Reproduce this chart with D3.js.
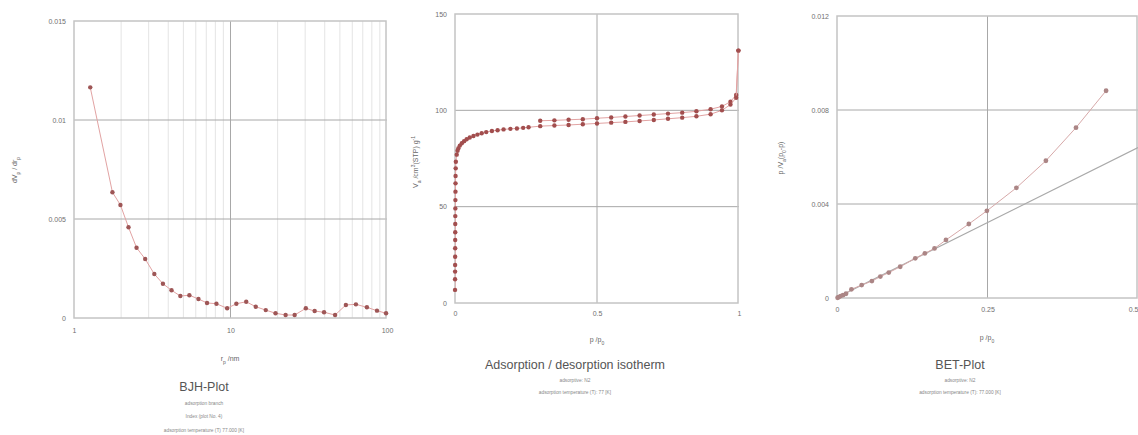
<!DOCTYPE html>
<html>
<head>
<meta charset="utf-8">
<script src="https://cdn.jsdelivr.net/npm/d3@7"></script>
<style>
  body { margin: 0; background: #fff; font-family: "Liberation Sans", Arial, sans-serif; }
  .frame { fill: none; stroke: #c4c4c4; stroke-width: 1.5; }
  .grid-major { stroke: #a8a8a8; stroke-width: 1; }
  .grid-minor { stroke: #e4e4e4; stroke-width: 1; }
  .tick-label { fill: #707070; font-size: 7px; }
  .axis-label { fill: #666; font-size: 7px; }
  .title { fill: #555; font-size: 12.5px; text-anchor: middle; }
  .sub { fill: #888; font-size: 4.8px; text-anchor: middle; }
</style>
</head>
<body>
<svg id="chart" width="1138" height="435"></svg>
<script>
// ---- BJH plot (adsorption branch) ----
var bjhRadius = [1.27, 1.76, 1.98, 2.23, 2.51, 2.85, 3.26, 3.70, 4.20, 4.78, 5.46, 6.24, 7.08, 8.13, 9.52,
    10.9, 12.6, 14.5, 16.8, 19.4, 22.5, 25.7, 30.3, 34.5, 39.6, 46.6, 54.6, 63.3, 74.4, 86.3, 98.6];
var bjhDv = [0.01165, 0.00635, 0.00571, 0.00458, 0.00355, 0.00298, 0.00222, 0.00173, 0.00140, 0.00111, 0.00115,
    0.00096, 0.00076, 0.00072, 0.00049, 0.00072, 0.00082, 0.00057, 0.00040, 0.00024, 0.00015, 0.00015, 0.00049,
    0.00035, 0.00029, 0.00015, 0.00066, 0.00069, 0.00054, 0.00037, 0.00024];

// ---- adsorption / desorption isotherm ----
var adsP = [0.0001, 0.0002, 0.0003, 0.0004, 0.0005, 0.0006, 0.0007, 0.0008, 0.0009, 0.0010, 0.0012, 0.0014,
    0.0016, 0.0018, 0.0020, 0.0025, 0.0030, 0.006, 0.009, 0.012, 0.017, 0.024, 0.032, 0.041, 0.052, 0.065,
    0.079, 0.094, 0.11, 0.13, 0.15, 0.171, 0.195, 0.218, 0.24, 0.259,
    0.30, 0.35, 0.40, 0.45, 0.50, 0.55, 0.60, 0.65, 0.70, 0.75, 0.80, 0.85, 0.90, 0.94, 0.97, 0.99, 0.998];
var adsV = [6.8, 12.3, 16.3, 19.7, 24.0, 28.4, 32.7, 36.7, 41.0, 45.1, 49.1, 53.4, 57.8, 62.1, 65.9, 69.9,
    73.3, 77.0, 79.0, 80.3, 81.7, 82.9, 84.0, 85.0, 85.9, 86.7, 87.4, 88.1, 88.7, 89.3, 89.7, 90.1, 90.4,
    90.6, 90.9, 91.2,
    91.8, 92.1, 92.4, 92.8, 93.2, 93.6, 94.0, 94.5, 95.0, 95.6, 96.2, 96.9, 98.0, 100.0, 103.0, 106.5, 131.0];
var desP = [0.998, 0.99, 0.97, 0.94, 0.90, 0.85, 0.80, 0.75, 0.70, 0.65, 0.60, 0.55, 0.50, 0.45, 0.40, 0.35, 0.30];
var desV = [131.0, 108.0, 104.5, 102.0, 100.6, 99.5, 98.8, 98.3, 97.8, 97.3, 96.8, 96.3, 95.9, 95.4, 95.1, 94.8, 94.6];

// ---- BET plot ----
var betP = [0.001, 0.003, 0.006, 0.010, 0.015, 0.024, 0.041, 0.058, 0.072, 0.086, 0.105, 0.130, 0.146,
    0.162, 0.181, 0.219, 0.249, 0.298, 0.347, 0.397, 0.447];
var betY = [0.00001, 0.00004, 0.00008, 0.00012, 0.00018, 0.00037, 0.00055, 0.00072, 0.00091, 0.00108,
    0.00133, 0.00169, 0.00190, 0.00211, 0.00247, 0.00315, 0.00371, 0.00469, 0.00584, 0.00725, 0.00882];
var betFitP = [0, 0.5];
var betFitY = [0.00002, 0.00640];

var svg = d3.select("#chart");

/*
 * Panel - one framed plot with grid, tick labels, axis labels and captions
 */
Panel = function(cfg) {
    this.cfg = cfg;
    this.initVis();
};

Panel.prototype.initVis = function() {
    var vis = this, c = vis.cfg;

    vis.x = (c.log ? d3.scaleLog() : d3.scaleLinear()).domain(c.xDomain).range([c.left, c.right]);
    vis.y = d3.scaleLinear().domain(c.yDomain).range([c.bottom, c.top]);
    vis.g = svg.append("g");

    // minor grid (log panel only)
    if (c.minorX) {
        vis.g.selectAll(".grid-minor").data(c.minorX).enter().append("line")
            .attr("class", "grid-minor")
            .attr("x1", d => vis.x(d)).attr("x2", d => vis.x(d))
            .attr("y1", c.top).attr("y2", c.bottom);
    }

    // major grid
    vis.g.selectAll(".gx").data(c.gridX).enter().append("line")
        .attr("class", "grid-major")
        .attr("x1", d => vis.x(d)).attr("x2", d => vis.x(d))
        .attr("y1", c.top).attr("y2", c.bottom);
    vis.g.selectAll(".gy").data(c.gridY).enter().append("line")
        .attr("class", "grid-major")
        .attr("x1", c.left).attr("x2", c.right)
        .attr("y1", d => vis.y(d)).attr("y2", d => vis.y(d));

    vis.g.append("rect").attr("class", "frame")
        .attr("x", c.left).attr("y", c.top)
        .attr("width", c.right - c.left - 1).attr("height", c.bottom - c.top);

    // tick labels through d3 axes, lines hidden
    var xAxis = d3.axisBottom(vis.x).tickValues(c.xTicks).tickFormat((d, i) => c.xTickText[i])
        .tickSize(0).tickPadding(c.xPad);
    var yAxis = d3.axisLeft(vis.y).tickValues(c.yTicks).tickFormat((d, i) => c.yTickText[i])
        .tickSize(0).tickPadding(8);
    var gx = vis.g.append("g").attr("transform", "translate(0," + c.bottom + ")").call(xAxis);
    var gy = vis.g.append("g").attr("transform", "translate(" + c.left + ",0)").call(yAxis);
    [gx, gy].forEach(function(a) {
        a.select(".domain").remove();
        a.selectAll("text").attr("class", "tick-label").attr("fill", null)
            .style("fill", "#707070").attr("font-size", null);
        a.attr("font-family", null).attr("font-size", null);
    });
    // last x label sits on the page edge in the BET panel
    if (c.lastXEnd) gx.selectAll(".tick:last-of-type text").attr("text-anchor", "end");

    // axis labels
    var xl = vis.g.append("text").attr("class", "axis-label")
        .attr("x", c.xLabelPos[0]).attr("y", c.xLabelPos[1]).attr("text-anchor", "middle");
    c.xLabel.forEach(function(p) {
        xl.append("tspan").attr("baseline-shift", p[1] || null)
            .attr("font-size", p[1] ? "5px" : null).text(p[0]);
    });
    var yl = vis.g.append("text").attr("class", "axis-label")
        .attr("transform", "translate(" + c.yLabelPos[0] + "," + c.yLabelPos[1] + ") rotate(-90)")
        .attr("text-anchor", "middle");
    c.yLabel.forEach(function(p) {
        yl.append("tspan").attr("baseline-shift", p[1] || null)
            .attr("font-size", p[1] ? "5px" : null).text(p[0]);
    });

    // captions
    vis.g.append("text").attr("class", "title")
        .attr("x", c.titlePos[0]).attr("y", c.titlePos[1]).text(c.title);
    vis.g.selectAll(".sub").data(c.subs).enter().append("text")
        .attr("class", "sub")
        .attr("x", c.titlePos[0])
        .attr("y", (d, i) => c.titlePos[1] + c.subGap * (i + 1))
        .text(d => d);

    vis.clip = "clip" + c.id;
    vis.g.append("clipPath").attr("id", vis.clip).append("rect")
        .attr("x", c.left).attr("y", c.top - 4)
        .attr("width", c.right - c.left + 4).attr("height", c.bottom - c.top + 8);
};

Panel.prototype.addSeries = function(xs, ys, opt) {
    var vis = this;
    var data = xs.map((d, i) => ({ x: d, y: ys[i] }));
    var line = d3.line().x(d => vis.x(d.x)).y(d => vis.y(d.y));
    vis.g.append("path").datum(data)
        .attr("clip-path", "url(#" + vis.clip + ")")
        .attr("fill", "none").attr("stroke", opt.line).attr("stroke-width", opt.width || 1)
        .attr("d", line);
    if (opt.dot) {
        vis.g.append("g").selectAll("circle").data(data).enter().append("circle")
            .attr("cx", d => vis.x(d.x)).attr("cy", d => vis.y(d.y))
            .attr("r", opt.r || 2.2).attr("fill", opt.dot);
    }
};

var minorTicks = [2, 3, 4, 5, 6, 7, 8, 9, 20, 30, 40, 50, 60, 70, 80, 90];

var bjh = new Panel({
    id: 1, log: true, left: 74, right: 387, top: 21, bottom: 318,
    xDomain: [1, 100], yDomain: [0, 0.015],
    minorX: minorTicks, gridX: [10], gridY: [0.005, 0.01],
    xTicks: [1, 10, 100], xTickText: ["1", "10", "100"], xPad: 10,
    yTicks: [0, 0.005, 0.01, 0.015], yTickText: ["0", "0.005", "0.01", "0.015"],
    xLabel: [["r"], ["p", "sub"], [" /nm"]], xLabelPos: [230, 361],
    yLabel: [["dV"], ["p", "sub"], [" / dr"], ["p", "sub"]], yLabelPos: [17, 170],
    title: "BJH-Plot", titlePos: [204, 391], subGap: 13.5,
    subs: ["adsorption branch", "Index (plot No. 4)", "adsorption temperature (T) 77.000 [K]"]
});
bjh.addSeries(bjhRadius, bjhDv, { line: "#e2a3a3", dot: "#9e5656" });

var iso = new Panel({
    id: 2, left: 455, right: 739, top: 14, bottom: 303,
    xDomain: [0, 1], yDomain: [0, 150],
    gridX: [0.5], gridY: [50, 100],
    xTicks: [0, 0.5, 1], xTickText: ["0", "0.5", "1"], xPad: 8,
    yTicks: [0, 50, 100, 150], yTickText: ["0", "50", "100", "150"],
    xLabel: [["p"], [" /p"], ["0", "sub"]], xLabelPos: [597, 342],
    yLabel: [["V"], ["a", "sub"], [" /cm"], ["3", "super"], ["(STP) g"], ["-1", "super"]], yLabelPos: [418, 162],
    title: "Adsorption / desorption isotherm", titlePos: [575, 369], subGap: 12.5,
    subs: ["adsorptive: N2", "adsorption temperature (T): 77 [K]"]
});
iso.addSeries(desP, desV, { line: "#e2a3a3", dot: "#a24e4e" });
iso.addSeries(adsP, adsV, { line: "#e2a3a3", dot: "#a24e4e" });

var bet = new Panel({
    id: 3, left: 837, right: 1138, top: 16, bottom: 298, lastXEnd: true,
    xDomain: [0, 0.5], yDomain: [0, 0.012],
    gridX: [0.25], gridY: [0.004, 0.008],
    xTicks: [0, 0.25, 0.5], xTickText: ["0", "0.25", "0.5"], xPad: 9,
    yTicks: [0, 0.004, 0.008, 0.012], yTickText: ["0", "0.004", "0.008", "0.012"],
    xLabel: [["p"], [" /p"], ["0", "sub"]], xLabelPos: [987, 340],
    yLabel: [["p /V"], ["a", "sub"], ["(p"], ["0", "sub"], ["-p)"]], yLabelPos: [783, 158],
    title: "BET-Plot", titlePos: [960, 369], subGap: 12.5,
    subs: ["adsorptive: N2", "adsorption temperature (T): 77.000 [K]"]
});
bet.addSeries(betFitP, betFitY, { line: "#a9a9a9", width: 1.2 });
bet.addSeries(betP, betY, { line: "#d7a9a9", dot: "#ab8585", r: 2.4 });
</script>
</body>
</html>
